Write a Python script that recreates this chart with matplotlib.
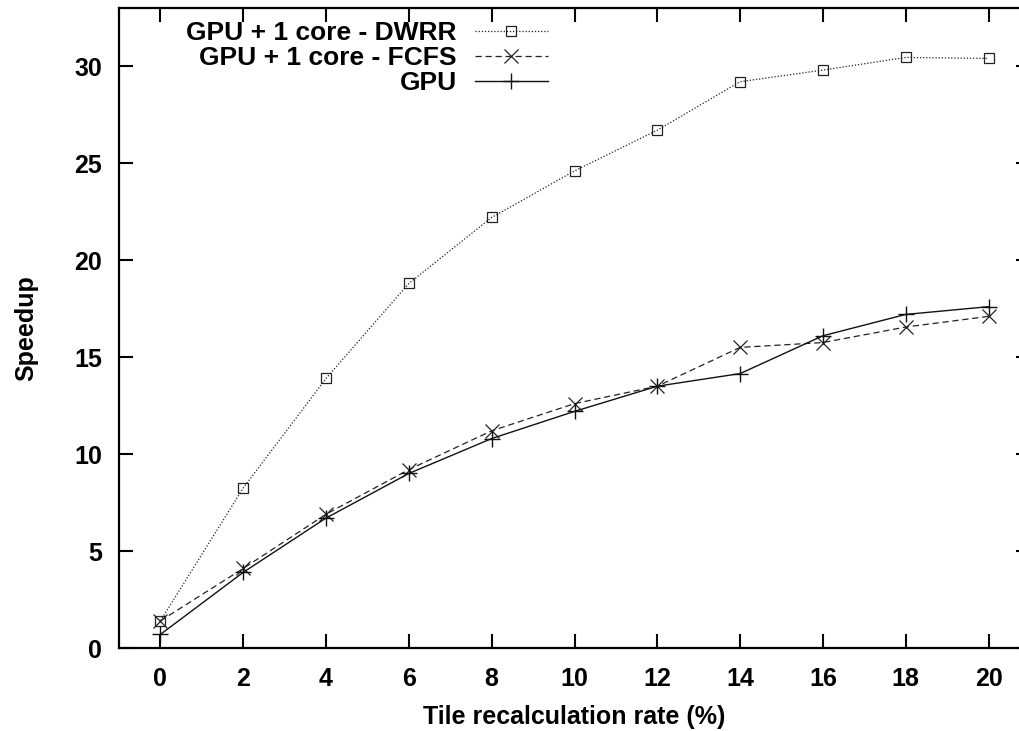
import matplotlib
matplotlib.use("Agg")
import matplotlib.pyplot as plt

rate = [0, 2, 4, 6, 8, 10, 12, 14, 16, 18, 20]
dwrr = [1.4, 8.25, 13.9, 18.8, 22.2, 24.6, 26.7, 29.2, 29.8, 30.45, 30.4]
fcfs = [1.4, 4.1, 6.9, 9.2, 11.2, 12.6, 13.5, 15.5, 15.75, 16.55, 17.1]
gpu = [0.7, 3.9, 6.7, 9.0, 10.8, 12.2, 13.5, 14.15, 16.1, 17.2, 17.6]
labels = ["GPU + 1 core - DWRR", "GPU + 1 core - FCFS", "GPU"]
xticks = [0, 2, 4, 6, 8, 10, 12, 14, 16, 18, 20]
yticks = [0, 5, 10, 15, 20, 25, 30]

plt.rcParams['font.family'] = ['Liberation Sans', 'DejaVu Sans']
W, H = 1019, 731
fig = plt.figure(figsize=(W / 100, H / 100), dpi=100)
ax = fig.add_axes([119 / W, (H - 648) / H, (1030 - 119) / W, (648 - 8) / H])

ax.plot(rate, dwrr, linestyle=(0, (1, 1.5)), color='#222222', lw=0.9,
        marker='s', markersize=7.5, markerfacecolor='none', markeredgecolor='#222222',
        markeredgewidth=0.9, label=labels[0])
ax.plot(rate, fcfs, linestyle=(0, (5, 3)), color='#222222', lw=0.9,
        marker='x', markersize=10, markeredgecolor='#222222', markeredgewidth=0.9,
        label=labels[1])
ax.plot(rate, gpu, linestyle='-', color='#111111', lw=1.0,
        marker='+', markersize=11, markeredgecolor='#111111', markeredgewidth=1.0,
        label=labels[2])

ax.set_xlim(-1, 21)
ax.set_ylim(0, 33)
ax.set_xticks(xticks)
ax.set_yticks(yticks)
ax.set_xticklabels([str(v) for v in xticks], fontsize=18, fontweight='bold')
ax.set_yticklabels([str(v) for v in yticks], fontsize=18, fontweight='bold')
ax.tick_params(direction='in', length=10, width=1.5, top=True, right=True,
               color='black')
ax.tick_params(axis='x', pad=13.5)
ax.tick_params(axis='y', pad=12)
for s in ax.spines.values():
    s.set_linewidth(1.6)

ax.set_xlabel("Tile recalculation rate (%)", fontsize=18, fontweight='bold')
ax.set_ylabel("Speedup", fontsize=18, fontweight='bold')
ax.xaxis.set_label_coords(0.5, -(705 - 648) / 640)
ax.yaxis.set_label_coords(-(119 - 38) / 911, 0.5)

leg = ax.legend(loc='upper right', bbox_to_anchor=((548 - 119) / 911, 1 - (21 - 8) / 640),
                frameon=False, markerfirst=False, fontsize=19, handlelength=2.77,
                handletextpad=0.68, labelspacing=0.04, borderpad=0, borderaxespad=0)
for t in leg.get_texts():
    t.set_fontweight('bold')

fig.savefig("out.png", dpi=100)
